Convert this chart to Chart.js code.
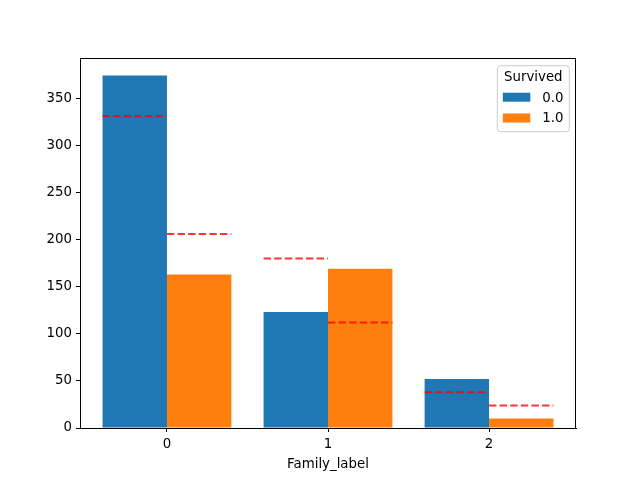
<!DOCTYPE html>
<html>
<head>
<meta charset="utf-8">
<script src="https://cdn.jsdelivr.net/npm/chart.js@4/dist/chart.umd.min.js"></script>
<style>
html,body{margin:0;padding:0;background:#fff;}
#wrap{width:640px;height:480px;}
</style>
</head>
<body>
<div id="wrap"><canvas id="c" width="640" height="480"></canvas></div>
<script>
const categories = ['0', '1', '2'];
const seriesLabels = ['0.0', '1.0'];
const survived0 = [374, 123, 52];
const survived1 = [163, 169, 10];
const expected0 = [331, 180, 38];
const expected1 = [206, 112, 24];
const yTicks = [0, 50, 100, 150, 200, 250, 300, 350];
const xTitle = 'Family_label';
const legendTitle = 'Survived';

const FONT = 'DejaVu Sans';
const FS = 13.33;
const BLUE = '#1f77b4';
const ORANGE = '#ff7f0e';
const RED = 'rgba(255,0,0,0.8)';

const catX = categories.map(Number);
const barW = 0.4;

function barData(vals) {
  return catX.map((x, i) => ({ x: x, y: vals[i] }));
}
function expLines(vals, offset, label) {
  return catX.map((x, i) => ({
    type: 'line',
    label: label,
    data: [{ x: x + offset, y: vals[i] }, { x: x + offset + barW, y: vals[i] }],
    borderColor: RED,
    borderWidth: 2,
    borderDash: [7.4, 3.2],
    pointRadius: 0,
    fill: false,
    order: 0
  }));
}

const barCommon = { type: 'bar', borderWidth: 0, inflateAmount: 0, barPercentage: 1.0, categoryPercentage: 0.8, order: 1 };
const datasets = [
  Object.assign({ label: seriesLabels[0], data: barData(survived0), backgroundColor: BLUE }, barCommon),
  Object.assign({ label: seriesLabels[1], data: barData(survived1), backgroundColor: ORANGE }, barCommon),
  ...expLines(expected0, -barW, 'exp0'),
  ...expLines(expected1, 0, 'exp1')
];

const legendPlugin = {
  id: 'mplLegend',
  afterDraw(chart) {
    const ctx = chart.ctx;
    const a = chart.chartArea;
    const w = 72, h = 66;
    const x0 = a.right - 6.7 - w, y0 = a.top + 7.7;
    ctx.save();
    const r = 3;
    ctx.beginPath();
    ctx.moveTo(x0 + r, y0);
    ctx.lineTo(x0 + w - r, y0);
    ctx.quadraticCurveTo(x0 + w, y0, x0 + w, y0 + r);
    ctx.lineTo(x0 + w, y0 + h - r);
    ctx.quadraticCurveTo(x0 + w, y0 + h, x0 + w - r, y0 + h);
    ctx.lineTo(x0 + r, y0 + h);
    ctx.quadraticCurveTo(x0, y0 + h, x0, y0 + h - r);
    ctx.lineTo(x0, y0 + r);
    ctx.quadraticCurveTo(x0, y0, x0 + r, y0);
    ctx.closePath();
    ctx.fillStyle = 'rgba(255,255,255,0.8)';
    ctx.fill();
    ctx.strokeStyle = '#cccccc';
    ctx.lineWidth = 1;
    ctx.stroke();
    ctx.font = FS + 'px "' + FONT + '"';
    ctx.fillStyle = '#000';
    ctx.textBaseline = 'middle';
    ctx.textAlign = 'center';
    ctx.fillText(legendTitle, x0 + w / 2, y0 + 12);
    const colors = [BLUE, ORANGE];
    ctx.textAlign = 'left';
    seriesLabels.forEach((lab, i) => {
      const yy = y0 + 31.5 + i * 20.8;
      ctx.fillStyle = colors[i];
      ctx.fillRect(x0 + 5.5, yy - 4.5, 27.5, 9);
      ctx.fillStyle = '#000';
      ctx.fillText(lab, x0 + 45, yy + 1);
    });
    ctx.restore();
  }
};

new Chart(document.getElementById('c'), {
  data: { datasets: datasets },
  options: {
    responsive: false,
    animation: false,
    events: [],
    layout: { padding: { left: 0, right: 64, top: 58, bottom: 0 } },
    plugins: { legend: { display: false }, tooltip: { enabled: false } },
    scales: {
      x: {
        type: 'linear',
        offset: false,
        min: -0.54,
        max: 2.54,
        afterBuildTicks(s) { s.ticks = catX.map(v => ({ value: v })); },
        afterFit(s) { s.height = 52; },
        ticks: {
          color: '#000',
          font: { family: FONT, size: FS },
          padding: 5,
          maxRotation: 0,
          callback: (v) => categories[catX.indexOf(v)]
        },
        grid: { display: true, offset: false, drawOnChartArea: false, drawTicks: true, tickLength: 4, color: '#000', tickWidth: 1 },
        border: { display: true, color: '#000', width: 1 },
        title: { display: true, text: xTitle, color: '#000', font: { family: FONT, size: FS }, padding: { top: 4, bottom: 7 } }
      },
      y: {
        type: 'linear',
        min: 0,
        max: 392.7,
        afterBuildTicks(s) { s.ticks = yTicks.map(v => ({ value: v })); },
        afterFit(s) { s.width = 80; },
        ticks: { color: '#000', font: { family: FONT, size: FS }, padding: 4 },
        grid: { display: true, offset: false, drawOnChartArea: false, drawTicks: true, tickLength: 4, color: '#000', tickWidth: 1 },
        border: { display: true, color: '#000', width: 1 }
      }
    }
  },
  plugins: [legendPlugin, {
    id: 'frame',
    afterDatasetsDraw(chart) {
      const a = chart.chartArea, ctx = chart.ctx;
      ctx.save();
      ctx.strokeStyle = '#000';
      ctx.lineWidth = 1;
      ctx.beginPath();
      ctx.moveTo(a.left, a.top + 0.5);
      ctx.lineTo(a.right, a.top + 0.5);
      ctx.moveTo(a.right - 0.5, a.top);
      ctx.lineTo(a.right - 0.5, a.bottom);
      ctx.stroke();
      ctx.restore();
    }
  }]
});
</script>
</body>
</html>
